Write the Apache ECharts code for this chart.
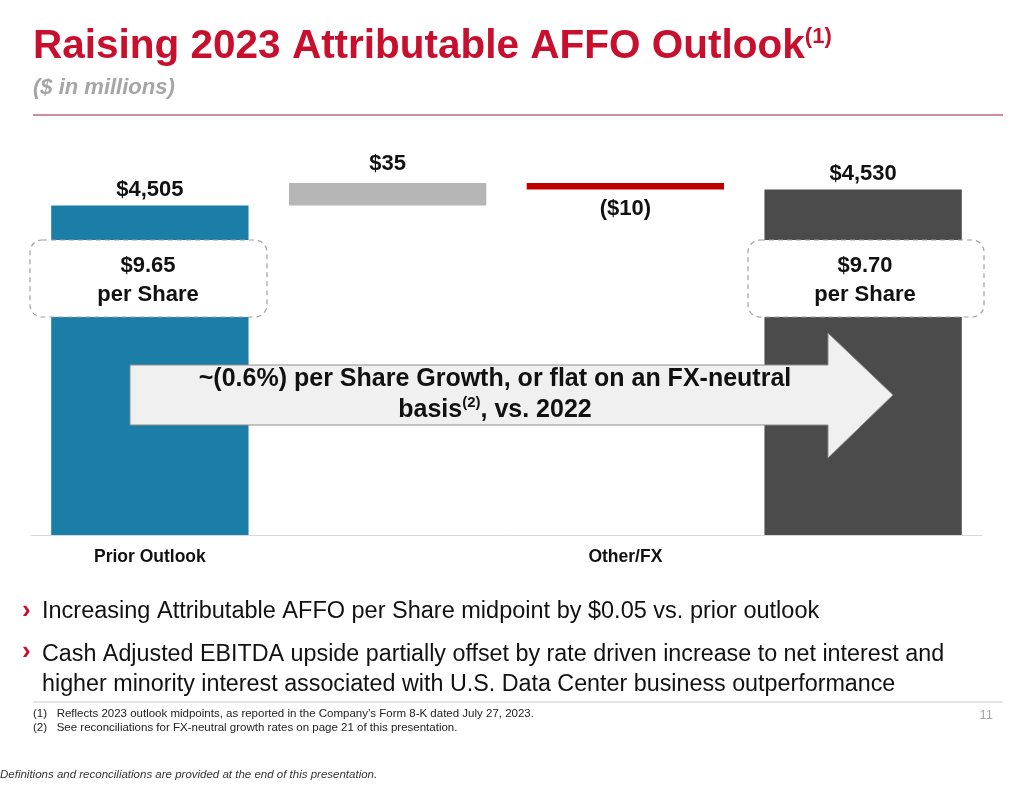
<!DOCTYPE html>
<html>
<head>
<meta charset="utf-8">
<script src="https://cdn.jsdelivr.net/npm/echarts@6/dist/echarts.min.js"></script>
<style>html,body{margin:0;padding:0;background:#fff}#chart{width:1029px;height:793px}</style>
</head>
<body>
<div id="chart"></div>
<script>
// waterfall data ($ in millions)
var categories = ['Prior Outlook', 'Cash Adjusted EBITDA', 'Other/FX', 'Current Outlook'];
var baseValues = [0, 4505, 4530, 0];
var deltaValues = [4505, 35, 10, 4530];
var valueLabels = ['$4,505', '$35', '($10)', '$4,530'];
var barColors = ['#1b7ea6', '#b6b6b6', '#c00000', '#4b4b4b'];
var perShare = ['$9.65', '$9.70'];

var axisMin = 3990;
var chart = echarts.init(document.getElementById('chart'));
var F = 'Liberation Sans, Arial, sans-serif';

function bar(i) {
  var full = i === 0 || i === 3;
  return {
    value: full ? deltaValues[i] - axisMin : deltaValues[i],
    itemStyle: { color: barColors[i] },
    label: {
      show: true,
      position: i === 2 ? 'bottom' : 'top',
      distance: i === 2 ? 9 : (i === 1 ? 8 : 4),
      formatter: valueLabels[i],
      fontFamily: F, fontWeight: 'bold', fontSize: 22, color: '#111'
    }
  };
}

var option = {
  animation: false,
  grid: { left: 31, right: 47, top: 151, bottom: 258 },
  xAxis: {
    type: 'category',
    data: categories,
    axisLine: { lineStyle: { color: '#d9d9d9' } },
    axisTick: { show: false },
    axisLabel: { fontFamily: F, fontWeight: 'bold', fontSize: 17.5, color: '#111', margin: 13 }
  },
  yAxis: { type: 'value', min: axisMin, max: 4590, show: false, splitLine: { show: false } },
  series: [
    {
      type: 'bar', stack: 'w', barCategoryGap: '17%', silent: true,
      itemStyle: { color: 'transparent' },
      data: baseValues.map(function (v, i) { return i === 0 || i === 3 ? axisMin : v; })
    },
    {
      type: 'bar', stack: 'w', barCategoryGap: '17%',
      data: [0, 1, 2, 3].map(bar)
    }
  ],
  graphic: { elements: [
    { type: 'text', left: 33, top: 26, style: {
      rich: {
        t: { fontFamily: F, fontWeight: 'bold', fontSize: 40.5, fill: '#c8102e' },
        s: { fontFamily: F, fontWeight: 'bold', fontSize: 22, fill: '#c8102e', verticalAlign: 'top', padding: [0, 0, 20, 0] }
      },
      text: '{t|Raising 2023 Attributable AFFO Outlook}{s|(1)}'
    } },
    { type: 'text', left: 33, top: 77, style: { text: '($ in millions)', fontFamily: F, fontStyle: 'italic', fontWeight: 'bold', fontSize: 22, fill: '#a6a6a6' } },
    { type: 'line', shape: { x1: 33, y1: 115, x2: 1003, y2: 115 }, style: { stroke: '#9e1b32', lineWidth: 1 } },
    // per-share boxes
    { type: 'rect', z: 10, shape: { x: 30, y: 240, width: 237, height: 77, r: 12 }, style: { fill: '#fff', stroke: '#a0a0a0', lineDash: [5, 4], lineWidth: 1.2 } },
    { type: 'text', z: 11, x: 148, y: 280, style: { text: perShare[0] + '\nper Share', fontFamily: F, fontWeight: 'bold', fontSize: 22, fill: '#111', align: 'center', verticalAlign: 'middle', lineHeight: 29 } },
    { type: 'rect', z: 10, shape: { x: 748, y: 240, width: 236, height: 77, r: 12 }, style: { fill: '#fff', stroke: '#a0a0a0', lineDash: [5, 4], lineWidth: 1.2 } },
    { type: 'text', z: 11, x: 865, y: 280, style: { text: perShare[1] + '\nper Share', fontFamily: F, fontWeight: 'bold', fontSize: 22, fill: '#111', align: 'center', verticalAlign: 'middle', lineHeight: 29 } },
    // arrow
    { type: 'polygon', z: 10, shape: { points: [[130, 365], [828, 365], [828, 333], [893, 395], [828, 458], [828, 425], [130, 425]] },
      style: { fill: '#f0f0f0', stroke: '#8c8c8c', lineWidth: 1 } },
    { type: 'text', z: 11, x: 495, y: 395, style: {
      rich: {
        a: { fontFamily: F, fontWeight: 'bold', fontSize: 25, fill: '#111', lineHeight: 31 },
        s: { fontFamily: F, fontWeight: 'bold', fontSize: 15, fill: '#111', verticalAlign: 'top', padding: [0, 0, 10, 0] }
      },
      text: '{a|~(0.6%) per Share Growth, or flat on an FX-neutral}\n{a|basis}{s|(2)}{a|, vs. 2022}',
      align: 'center', verticalAlign: 'middle'
    } },
    // bullets
    { type: 'text', left: 22, top: 598, style: { text: '›', fontFamily: F, fontWeight: 'bold', fontSize: 26, fill: '#c8102e' } },
    { type: 'text', left: 42, top: 600, style: { text: 'Increasing Attributable AFFO per Share midpoint by $0.05 vs. prior outlook', fontFamily: F, fontSize: 23.5, fill: '#111' } },
    { type: 'text', left: 22, top: 639, style: { text: '›', fontFamily: F, fontWeight: 'bold', fontSize: 26, fill: '#c8102e' } },
    { type: 'text', left: 42, top: 640, style: { text: 'Cash Adjusted EBITDA upside partially offset by rate driven increase to net interest and\nhigher minority interest associated with U.S. Data Center business outperformance', fontFamily: F, fontSize: 23.3, fill: '#111', lineHeight: 30 } },
    { type: 'line', shape: { x1: 33, y1: 702, x2: 1003, y2: 702 }, style: { stroke: '#c8c8c8', lineWidth: 1 } },
    { type: 'text', left: 33, top: 707, style: { text: '(1)   Reflects 2023 outlook midpoints, as reported in the Company\u2019s Form 8-K dated July 27, 2023.\n(2)   See reconciliations for FX-neutral growth rates on page 21 of this presentation.', fontFamily: F, fontSize: 11.5, fill: '#222', lineHeight: 14 } },
    { type: 'text', right: 36, top: 709, style: { text: '11', fontFamily: F, fontSize: 13, fill: '#a6a6a6' } },
    { type: 'text', left: 0, top: 769, style: { text: 'Definitions and reconciliations are provided at the end of this presentation.', fontFamily: F, fontStyle: 'italic', fontSize: 11.5, fill: '#333' } }
  ] }
};
chart.setOption(option);
</script>
</body>
</html>
